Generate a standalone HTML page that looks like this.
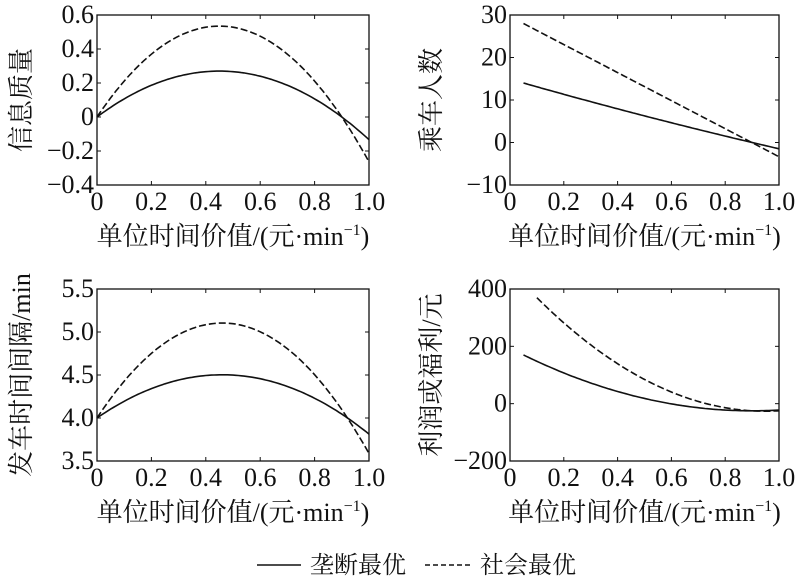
<!DOCTYPE html>
<html><head><meta charset="utf-8">
<style>
html,body{margin:0;padding:0;background:#fff;}
svg{display:block;}
text{font-family:"Liberation Serif","Noto Serif CJK SC",serif;fill:#111;}
</style></head>
<body>
<svg id="s" width="800" height="582" xmlns="http://www.w3.org/2000/svg"></svg>
<script>
const s=document.getElementById('s');
let h='';
function panel(L,R,T,B,x0,x1,y0,y1,xt,yt,ylab,ylc,xlab,curves,fmt){
  const X=v=>L+(v-x0)/(x1-x0)*(R-L), Y=v=>B-(v-y0)/(y1-y0)*(B-T);
  h+=`<rect x="${L}" y="${T}" width="${R-L}" height="${B-T}" fill="none" stroke="#111" stroke-width="1.3"/>`;
  xt.forEach(v=>{const x=X(v);
    if(v>x0&&v<x1){h+=`<line x1="${x}" y1="${B}" x2="${x}" y2="${B-4}" stroke="#111"/><line x1="${x}" y1="${T}" x2="${x}" y2="${T+4}" stroke="#111"/>`;}
    h+=`<text x="${x}" y="${B+25}" font-size="26" text-anchor="middle">${v===0?'0':v.toFixed(1)}</text>`;});
  yt.forEach(v=>{const y=Y(v);
    if(v>y0&&v<y1){h+=`<line x1="${L}" y1="${y}" x2="${L+4}" y2="${y}" stroke="#111"/><line x1="${R}" y1="${y}" x2="${R-4}" y2="${y}" stroke="#111"/>`;}
    let t=fmt?fmt(v):String(Math.abs(v));
    h+=`<text x="${L-3}" y="${y+8}" font-size="26" text-anchor="end">${v<0?'\u2212':''}${t}</text>`;});
  h+=`<text transform="translate(${ylc[0]},${ylc[1]}) rotate(-90)" font-size="26" text-anchor="middle">${ylab}</text>`;
  h+=`<text x="${(L+R)/2}" y="${B+60}" font-size="26" text-anchor="middle">${xlab}</text>`;
  curves.forEach(c=>{let p='';for(let i=0;i<=100;i++){const v=c.a+(c.b-c.a)*i/100;p+=(i?'L':'M')+X(v).toFixed(1)+','+Y(c.f(v)).toFixed(1);}
    h+=`<path d="${p}" fill="none" stroke="#111" stroke-width="1.6" ${c.d?'stroke-dasharray="7,3"':''}/>`;});
}
const xl='单位时间价值/(元·min<tspan font-size="16" dy="-10">−1</tspan><tspan dy="10">)</tspan>';
const xt=[0,0.2,0.4,0.6,0.8,1.0];
panel(97,369,15,185,0,1,-0.4,0.6,xt,[-0.4,-0.2,0,0.2,0.4,0.6],'信息质量',[30,100],xl,[
 {a:0,b:1,f:x=>1.333*x*(0.9-x)},{a:0,b:1,d:1,f:x=>2.64*x*(0.9-x)}],v=>v===0?'0':Math.abs(v).toFixed(1));
panel(510,779,15,185,0,1,-10,30,xt,[-10,0,10,20,30],'乘车人数',[440,100],xl,[
 {a:0.05,b:1,f:x=>{const t=x-0.05;return 14-18*t+1.8*t*t;}},{a:0.05,b:1,d:1,f:x=>28-33*(x-0.05)}]);
panel(97,369,289,461,0,1,3.5,5.5,xt,[3.5,4.0,4.5,5.0,5.5],'发车时间间隔/min',[30,375],xl,[
 {a:0,b:1,f:x=>4+2.37*x*(0.9-x)+0.05*x},{a:0,b:1,d:1,f:x=>4+5.33*x*(0.9-x)+0.12*x*x}],v=>v.toFixed(1));
panel(510,779,289,461,0,1,-200,400,xt,[-200,0,200,400],'利润或福利/元',[440,375],xl,[
 {a:0.05,b:1,f:x=>195*Math.pow((0.9-x)/0.85,2)-25},{a:0.1,b:1,d:1,f:x=>390*Math.pow((0.9-x)/0.8,2)-25+60*x*(0.9-x)}]);
h+=`<line x1="257" y1="565" x2="301" y2="565" stroke="#111" stroke-width="1.6"/><text x="310" y="573" font-size="24">垄断最优</text>`;
h+=`<line x1="425" y1="565" x2="470" y2="565" stroke="#111" stroke-width="1.6" stroke-dasharray="5,3"/><text x="480" y="573" font-size="24">社会最优</text>`;
s.innerHTML=h;
</script>
</body></html>
